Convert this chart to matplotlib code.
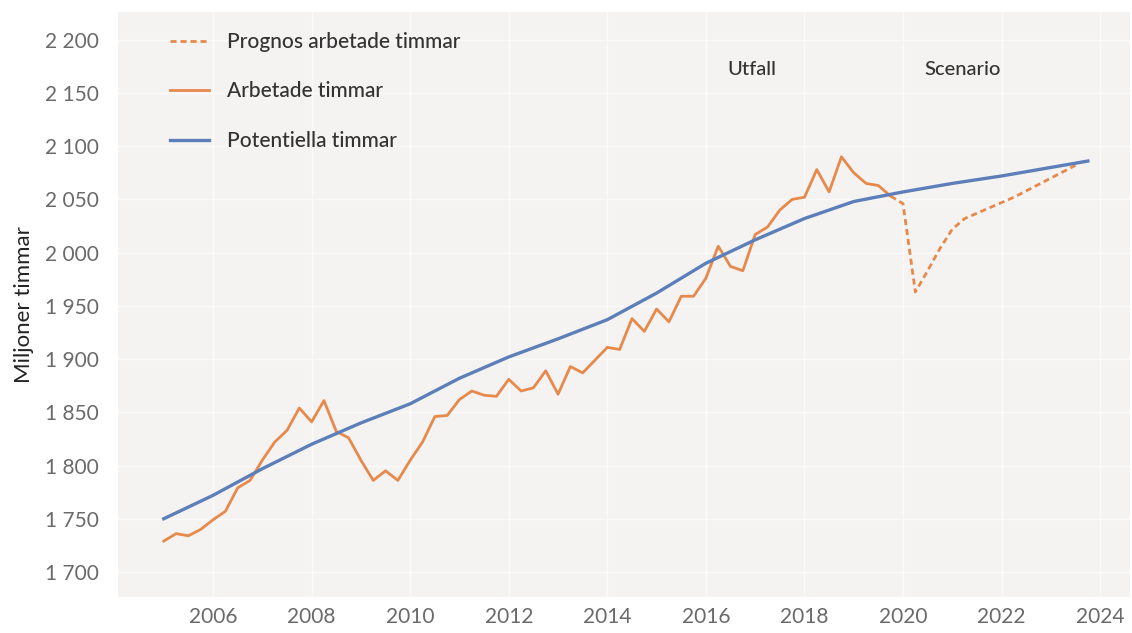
import numpy as np
import matplotlib
matplotlib.use("Agg")
import matplotlib.pyplot as plt
from matplotlib.ticker import FuncFormatter

# Arbetade timmar, kvartal 2005K1-2019K4 (miljoner timmar)
actual_start = 2005.0
actual_hours = [1729, 1736, 1734, 1740, 1749, 1757, 1779, 1786, 1805, 1822,
                1833, 1854, 1841, 1861, 1832, 1826, 1805, 1786, 1795, 1786,
                1805, 1822, 1846, 1847, 1862, 1870, 1866, 1865, 1881, 1870,
                1873, 1889, 1867, 1893, 1887, 1899, 1911, 1909, 1938, 1926,
                1947, 1935, 1959, 1959, 1976, 2006, 1987, 1983, 2017, 2024,
                2040, 2050, 2052, 2078, 2057, 2090, 2075, 2065, 2063, 2053]

# Prognos, kvartal 2019K4-2023K3
forecast_start = 2019.75
forecast_hours = [2053, 2046, 1963, 1983, 2004, 2022, 2032, 2037, 2042, 2047,
                  2052, 2058, 2064, 2070, 2076, 2082]

# Potentiella timmar
pot_years = [2005, 2006, 2007, 2008, 2009, 2010, 2011, 2012, 2013, 2014,
             2015, 2016, 2017, 2018, 2019, 2020, 2021, 2022, 2023, 2023.75]
pot_hours = [1750, 1772, 1797, 1820, 1840, 1858, 1882, 1902, 1919, 1937,
             1962, 1990, 2012, 2032, 2048, 2057, 2065, 2072, 2080, 2086]

actual_x = actual_start + np.arange(len(actual_hours)) / 4
forecast_x = forecast_start + np.arange(len(forecast_hours)) / 4

ORANGE = "#e8894c"
BLUE = "#5d7fb9"
BG = "#f4f3f2"

plt.rcParams["font.family"] = ["Lato", "DejaVu Sans"]

fig = plt.figure(figsize=(11.32, 6.33), dpi=100)
ax = fig.add_axes([0.1042, 0.0569, 0.8938, 0.9241])
ax.set_facecolor(BG)

ax.plot(forecast_x, forecast_hours, color=ORANGE, lw=2.0, linestyle=(0, (2.2, 1.4)),
        label="Prognos arbetade timmar")
ax.plot(actual_x, actual_hours, color=ORANGE, lw=2.0, label="Arbetade timmar")
ax.plot(pot_years, pot_hours, color=BLUE, lw=2.4, label="Potentiella timmar")

ax.set_xlim(2004.07, 2024.6)
ax.set_ylim(1676.5, 2226)
ax.set_xticks(np.arange(2006, 2025, 2))
ax.set_yticks(np.arange(1700, 2201, 50))
ax.yaxis.set_major_formatter(FuncFormatter(lambda v, p: f"{int(v):,}".replace(",", " ")))

ax.grid(True, color="#fafafa", lw=1.0)
ax.set_axisbelow(True)
for s in ax.spines.values():
    s.set_visible(False)
ax.tick_params(length=0, labelsize=15, colors="#6a6a6a")
ax.tick_params(axis="y", pad=14)
ax.tick_params(axis="x", pad=7)

ax.set_ylabel("Miljoner timmar", fontsize=16, color="#222222", labelpad=8)

ax.text(2016.93, 2172, "Utfall", fontsize=14.5, color="#333333", ha="center", va="center",
        fontweight="medium")
ax.text(2021.2, 2172, "Scenario", fontsize=14.5, color="#333333", ha="center", va="center",
        fontweight="medium")

leg = ax.legend(loc="upper left", bbox_to_anchor=(0.051, 0.966), frameon=False,
                fontsize=15, labelspacing=1.42, handlelength=1.9, handletextpad=0.85,
                borderpad=0, borderaxespad=0)
for t in leg.get_texts():
    t.set_color("#333333")
    t.set_fontweight("medium")

fig.savefig("out.png", dpi=100, facecolor="white")
